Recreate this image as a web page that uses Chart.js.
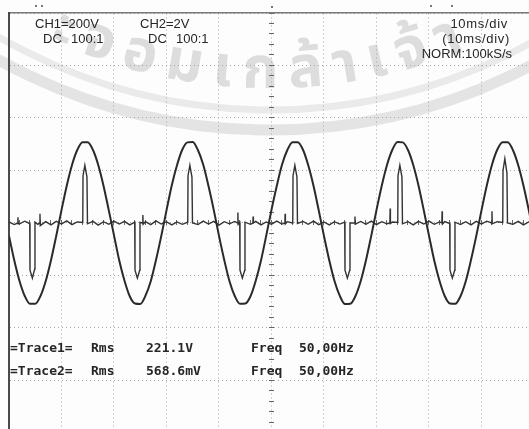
<!DOCTYPE html>
<html>
<head>
<meta charset="utf-8">
<script src="https://cdn.jsdelivr.net/npm/chart.js@4.4.1/dist/chart.umd.min.js"></script>
<style>
  html, body { margin: 0; padding: 0; background: #fdfdfd; }
  #wrap { position: relative; width: 529px; height: 429px; overflow: hidden; }
  #wm, #scope { position: absolute; left: 0; top: 0; }
  .lbl { position: absolute; font-family: "Liberation Sans", Arial, sans-serif; font-size: 13px;
         line-height: 13px; color: #262626; white-space: pre; }
  .mono { font-family: "DejaVu Sans Mono", monospace; font-weight: bold; }
  .dot { position: absolute; width: 2px; height: 2px; background: #777; }
</style>
</head>
<body>
<div id="wrap">
  <svg id="wm" width="529" height="429"></svg>
  <canvas id="scope" width="529" height="429"></canvas>

  <div class="dot" style="left:35px;top:5px"></div>
  <div class="dot" style="left:41px;top:5px"></div>
  <div class="dot" style="left:271px;top:6px"></div>
  <div class="dot" style="left:430px;top:5px"></div>
  <div class="dot" style="left:451px;top:5px"></div>

  <div class="lbl" style="left:35px;top:17px">CH1=200V</div>
  <div class="lbl" style="left:43px;top:32px">DC</div>
  <div class="lbl" style="left:71px;top:32px">100:1</div>
  <div class="lbl" style="left:140px;top:17px">CH2=2V</div>
  <div class="lbl" style="left:148px;top:32px">DC</div>
  <div class="lbl" style="left:176px;top:32px">100:1</div>
  <div class="lbl" style="right:21px;top:17px;letter-spacing:0.7px">10ms/div</div>
  <div class="lbl" style="right:19px;top:32px;letter-spacing:0.7px">(10ms/div)</div>
  <div class="lbl" style="right:17px;top:47px">NORM:100kS/s</div>

  <div class="lbl mono" style="left:10px;top:341px">=Trace1=</div>
  <div class="lbl mono" style="left:91px;top:341px">Rms</div>
  <div class="lbl mono" style="left:146px;top:341px">221.1V</div>
  <div class="lbl mono" style="left:251px;top:341px">Freq</div>
  <div class="lbl mono" style="left:299px;top:341px">50,00Hz</div>
  <div class="lbl mono" style="left:10px;top:364px">=Trace2=</div>
  <div class="lbl mono" style="left:91px;top:364px">Rms</div>
  <div class="lbl mono" style="left:146px;top:364px">568.6mV</div>
  <div class="lbl mono" style="left:251px;top:364px">Freq</div>
  <div class="lbl mono" style="left:299px;top:364px">50,00Hz</div>
</div>

<script>
// ---- scope settings ----
const voltsPerDiv = [200, 2];      // CH1, CH2
const timeSpan = 99.05;            // ms visible (10 ms/div)
const divTop = 4, divBottom = -3.924;

// ---- CH1: mains voltage, sampled every 1 ms (V) ----
const ch1Time = [
  0,1,2,3,4,5,6,7,8,9,10,11,12,13,14,15,16,17,18,19,
  20,21,22,23,24,25,26,27,28,29,30,31,32,33,34,35,36,37,38,39,
  40,41,42,43,44,45,46,47,48,49,50,51,52,53,54,55,56,57,58,59,
  60,61,62,63,64,65,66,67,68,69,70,71,72,73,74,75,76,77,78,79,
  80,81,82,83,84,85,86,87,88,89,90,91,92,93,94,95,96,97,98,99,100
];
const ch1Volts = [
  -49,-142,-221,-278,-308,-308,-278,-221,-142,-49, 49,142,221,278,308,308,278,221,142,49,
  -47,-143,-220,-279,-307,-309,-277,-222,-141,-50, 48,143,220,279,307,309,277,222,141,50,
  -49,-141,-222,-278,-308,-307,-279,-220,-143,-48, 50,141,222,277,308,308,279,220,142,48,
  -50,-142,-221,-277,-309,-308,-278,-221,-142,-49, 49,142,221,278,309,307,278,221,143,49,
  -48,-143,-220,-278,-307,-308,-279,-222,-141,-50, 48,142,222,279,308,308,277,220,142,50,
  -49
];

// ---- CH2: pulse signal (V) ----
const ch2Time = [
  0,1,1.65,1.7,1.75,2,3,3.95,4.0,4.45,4.9,4.95,5.5,5.85,5.9,5.95,7,8,9,10,11,12,13,
  14.05,14.1,14.45,14.85,14.95,16,17,18,19,20,21,22,23,
  23.95,24.0,24.45,24.9,24.95,25.45,25.5,25.55,26,27,28,29,30,31,32,33,
  34.05,34.1,34.45,34.85,34.95,36,37,38,39,40,41,42,43,43.55,43.6,43.65,
  43.95,44.0,44.45,44.9,44.95,46,46.45,46.5,46.55,47,48,49,50,51,52,52.55,52.6,52.65,53,
  54.05,54.1,54.45,54.85,54.95,56,57,58,59,60,61,62,63,
  63.95,64.0,64.45,64.9,64.95,65.85,65.9,65.95,67,68,69,70,71,72,72.55,72.6,72.65,73,
  74.05,74.1,74.45,74.85,74.95,76,77,78,79,80,81,82,82.45,82.5,82.55,83,
  83.95,84.0,84.45,84.9,84.95,86,87,88,89,90,91,91.95,92.0,92.05,93,
  94.05,94.1,94.45,94.85,94.95,96,97,98,99,100
];
const ch2Volts = [
  0.04,-0.06,0.0,0.22,-0.03,-0.03,0.07,-0.02,-1.8,-2.1,-1.75,0.03,-0.05,0.0,0.35,-0.1,0.05,-0.07,0.06,-0.04,0.08,-0.06,0.04,
  0.02,1.8,2.2,1.75,-0.03,0.06,-0.08,0.05,-0.05,0.07,-0.04,0.06,-0.07,
  0.03,-1.8,-2.1,-1.8,0.02,0.0,0.3,-0.05,0.05,-0.06,0.08,-0.04,0.05,-0.07,0.04,-0.05,
  0.03,1.8,2.2,1.75,0.0,-0.06,0.07,-0.04,0.06,-0.08,0.05,-0.03,0.06,0.0,0.4,-0.05,
  0.02,-1.8,-2.1,-1.8,0.03,-0.05,0.0,0.25,0.0,0.06,-0.07,0.04,-0.05,0.07,-0.04,0.0,0.35,-0.03,0.05,
  0.0,1.8,2.2,1.75,-0.02,0.06,-0.05,0.07,-0.06,0.04,-0.07,0.05,-0.04,
  0.03,-1.8,-2.1,-1.8,0.0,0.0,0.25,-0.04,0.06,-0.05,0.07,-0.06,0.05,-0.03,0.0,0.55,-0.02,0.04,
  0.02,1.8,2.2,1.75,-0.03,0.05,-0.07,0.06,-0.04,0.07,-0.05,0.04,0.0,0.45,-0.04,0.05,
  -0.02,-1.8,-2.1,-1.8,0.03,-0.06,0.05,-0.07,0.06,-0.04,0.07,0.0,0.45,-0.03,0.05,
  0.02,2.0,2.45,1.9,0.0,-0.05,0.06,-0.07,0.04,-0.03
];

// ---- watermark text ----
const watermarkText = 'ะจอมเกล้าเจ้า';

// watermark (seal) drawn behind the canvas
(function () {
  const svg = document.getElementById('wm');
  const ns = 'http://www.w3.org/2000/svg';
  const cx = 270, cy = -430;
  function arcPath(r, half) {
    const a = Math.asin(Math.min(half / r, 0.99));
    const x1 = cx - r * Math.sin(a), y1 = cy + r * Math.cos(a);
    const x2 = cx + r * Math.sin(a), y2 = y1;
    return `M ${x1} ${y1} A ${r} ${r} 0 0 0 ${x2} ${y2}`;
  }
  [[560, 11, '#e4e4e4'], [540, 7, '#eaeaea']].forEach(([r, w, c]) => {
    const p = document.createElementNS(ns, 'path');
    p.setAttribute('d', arcPath(r, 420));
    p.setAttribute('fill', 'none');
    p.setAttribute('stroke', c);
    p.setAttribute('stroke-width', w);
    svg.appendChild(p);
  });
  const tp = document.createElementNS(ns, 'path');
  tp.setAttribute('id', 'wmPath');
  tp.setAttribute('d', arcPath(518, 420));
  tp.setAttribute('fill', 'none');
  svg.appendChild(tp);
  const t = document.createElementNS(ns, 'text');
  t.setAttribute('font-size', '58');
  t.setAttribute('font-weight', 'bold');
  t.setAttribute('fill', '#dddddd');
  t.setAttribute('letter-spacing', '11');
  t.setAttribute('font-family', '"Noto Sans Thai", "Noto Sans", "DejaVu Sans", sans-serif');
  const tpath = document.createElementNS(ns, 'textPath');
  tpath.setAttribute('href', '#wmPath');
  tpath.setAttribute('startOffset', '262');
  tpath.textContent = watermarkText;
  t.appendChild(tpath);
  svg.appendChild(t);
})();

const gridDots = { color: '#a6a6a6', lineWidth: 1, drawTicks: false };

new Chart(document.getElementById('scope'), {
  type: 'line',
  data: {
    datasets: [
      {
        label: 'Trace1',
        data: ch1Time.map((t, i) => ({ x: t, y: ch1Volts[i] / voltsPerDiv[0] })),
        borderColor: '#2a2a2a',
        borderWidth: 2,
        cubicInterpolationMode: 'monotone',
        pointRadius: 0
      },
      {
        label: 'Trace2',
        data: ch2Time.map((t, i) => ({ x: t, y: ch2Volts[i] / voltsPerDiv[1] })),
        borderColor: '#333333',
        borderWidth: 1.4,
        tension: 0,
        pointRadius: 0
      }
    ]
  },
  options: {
    responsive: false,
    animation: false,
    events: [],
    layout: { padding: { left: 9, top: 13, right: 0, bottom: 0 } },
    plugins: { legend: { display: false }, tooltip: { enabled: false } },
    scales: {
      x: {
        type: 'linear', position: 'top', min: 0, max: timeSpan,
        grid: gridDots,
        border: { display: true, color: '#7a7a7a', width: 1.5, dash: [1, 3] },
        ticks: { display: false, stepSize: 10, includeBounds: false }
      },
      y: {
        type: 'linear', position: 'left', min: divBottom, max: divTop,
        grid: gridDots,
        border: { display: true, color: '#4a4a4a', width: 2, dash: [1, 3] },
        ticks: { display: false, stepSize: 1, includeBounds: false }
      },
      // tick marks on the centre axes (0.2 div)
      xc: {
        type: 'linear', axis: 'x', position: { y: 0.048 }, min: 0, max: timeSpan,
        grid: { drawOnChartArea: false, drawTicks: true, tickLength: 5, tickColor: '#666', tickWidth: 1 },
        border: { display: false },
        ticks: { display: false, stepSize: 2, includeBounds: false }
      },
      yc: {
        type: 'linear', axis: 'y', position: { x: 50.48 }, min: divBottom, max: divTop,
        grid: { drawOnChartArea: false, drawTicks: true, tickLength: 5, tickColor: '#666', tickWidth: 1 },
        border: { display: false },
        ticks: { display: false, stepSize: 0.2, includeBounds: false }
      }
    }
  }
});
</script>
</body>
</html>
